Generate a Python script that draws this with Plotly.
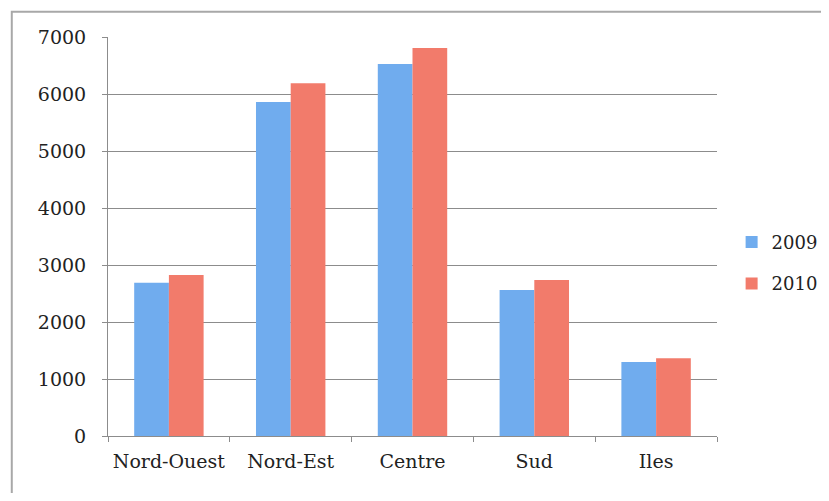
import plotly.graph_objects as go

categories = ["Nord-Ouest", "Nord-Est", "Centre", "Sud", "Iles"]
values_2009 = [2690, 5860, 6525, 2560, 1300]
values_2010 = [2825, 6190, 6805, 2735, 1365]
series_names = ["2009", "2010"]
y_ticks = [0, 1000, 2000, 3000, 4000, 5000, 6000, 7000]

font_family = "DejaVu Serif"

fig = go.Figure()
fig.add_trace(go.Bar(x=categories, y=values_2009, name=series_names[0],
                     legendgroup="a",
                     marker=dict(color="#70acee", line=dict(width=0))))
fig.add_trace(go.Bar(x=categories, y=values_2010, name=series_names[1],
                     legendgroup="b",
                     marker=dict(color="#f27b6b", line=dict(width=0))))

fig.update_layout(
    width=813, height=485,
    margin=dict(l=100, r=104, t=29, b=57, autoexpand=False),
    paper_bgcolor="white", plot_bgcolor="white",
    barmode="group", bargap=0.43, bargroupgap=0,
    font=dict(family=font_family, size=19, color="#222222"),
    showlegend=True,
    legend=dict(x=0.024, xref="paper", y=0.434, xanchor="left", yanchor="middle",
                font=dict(family=font_family, size=18, color="#222222"),
                itemwidth=30, tracegroupgap=15, traceorder="grouped",
                bgcolor="rgba(0,0,0,0)"),
    shapes=[dict(type="rect", xref="paper", yref="paper",
                 x0=-0.158, x1=1.4, y0=-0.3, y1=1.063,
                 line=dict(color="#a8a8a8", width=2), layer="below")],
)
# legend sits just right of the plotting area
fig.update_layout(legend_x=1.024)

fig.update_xaxes(
    showline=True, linecolor="#8c8c8c", linewidth=1,
    ticks="outside", tickson="boundaries", ticklen=5, tickcolor="#8c8c8c",
    showgrid=False, ticklabelstandoff=8, tickangle=0, automargin=False,
    tickfont=dict(family=font_family, size=19, color="#222222"),
)
fig.update_yaxes(
    range=[0, 7000], tickvals=y_ticks,
    showline=True, linecolor="#8c8c8c", linewidth=1,
    ticks="outside", ticklen=5, tickcolor="#8c8c8c",
    showgrid=True, gridcolor="#8c8c8c", gridwidth=1,
    zeroline=False, ticklabelstandoff=12, automargin=False,
    tickfont=dict(family=font_family, size=19, color="#222222"),
)

fig.write_html("out.html")
